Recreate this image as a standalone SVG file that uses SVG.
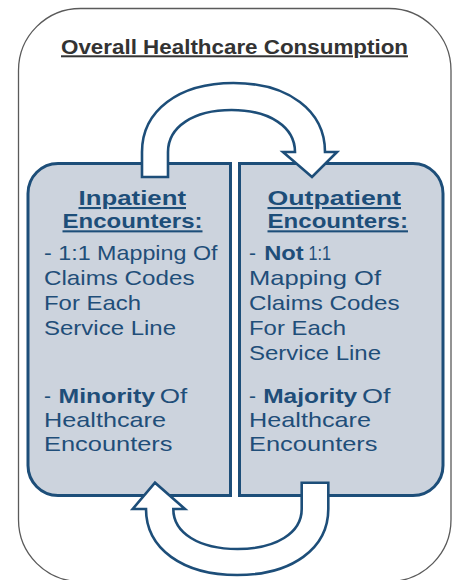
<svg xmlns="http://www.w3.org/2000/svg" width="452" height="580" viewBox="0 0 452 580">
<style>
.frame{fill:#ffffff;stroke:#5a5a5a;stroke-width:1.3}
.box{fill:#ccd3dd;stroke:#1d4e79;stroke-width:3}
.arrow{fill:#ffffff;stroke:#1d4e79;stroke-width:2.6;stroke-linejoin:miter}
text{font-family:"Liberation Sans",Arial,sans-serif}
.title{font-size:20px;font-weight:bold;fill:#333333;text-decoration:underline}
.head{font-size:20.8px;font-weight:bold;fill:#1d4e79;text-decoration:underline}
.body{font-size:21px;fill:#1f4e79}
.bold{font-weight:bold}
</style>
<rect class="frame" x="18.5" y="8.5" width="432.5" height="573" rx="62" ry="62"/>
<text id="title" class="title" x="61" y="54.3" textLength="347" lengthAdjust="spacingAndGlyphs">Overall Healthcare Consumption</text>
<g id="inpatient">
<path class="box" d="M230.5,163.5 L58,163.5 A30,30 0 0 0 28,193.5 L28,465.5 A30,30 0 0 0 58,495.5 L230.5,495.5 Z"/>
<text class="head" x="78.5" y="205" textLength="107.5" lengthAdjust="spacingAndGlyphs">Inpatient</text>
<text class="head" x="62.5" y="228.3" textLength="140" lengthAdjust="spacingAndGlyphs">Encounters:</text>
<text class="body" x="44" y="260" textLength="173.5" lengthAdjust="spacingAndGlyphs">- 1:1 Mapping Of</text>
<text class="body" x="44" y="285" textLength="150.5" lengthAdjust="spacingAndGlyphs">Claims Codes</text>
<text class="body" x="44" y="310" textLength="97" lengthAdjust="spacingAndGlyphs">For Each</text>
<text class="body" x="44" y="335" textLength="132" lengthAdjust="spacingAndGlyphs">Service Line</text>
<text class="body" y="402.7"><tspan x="44">-</tspan><tspan class="bold" x="58.5" textLength="96.5" lengthAdjust="spacingAndGlyphs">Minority</tspan><tspan x="159.8" textLength="27.5" lengthAdjust="spacingAndGlyphs">Of</tspan></text>
<text class="body" x="44" y="426.7" textLength="122" lengthAdjust="spacingAndGlyphs">Healthcare</text>
<text class="body" x="44" y="451" textLength="128.5" lengthAdjust="spacingAndGlyphs">Encounters</text>
</g>
<g id="outpatient">
<path class="box" d="M239.5,163.5 L413,163.5 A30,30 0 0 1 443,193.5 L443,465.5 A30,30 0 0 1 413,495.5 L239.5,495.5 Z"/>
<text class="head" x="267.5" y="205" textLength="133.5" lengthAdjust="spacingAndGlyphs">Outpatient</text>
<text class="head" x="267.5" y="228.3" textLength="140.5" lengthAdjust="spacingAndGlyphs">Encounters:</text>
<text class="body" y="260"><tspan x="249">-</tspan><tspan class="bold" x="264.2" textLength="39.5" lengthAdjust="spacingAndGlyphs">Not</tspan><tspan x="308.5" textLength="22.5" lengthAdjust="spacingAndGlyphs">1:1</tspan></text>
<text class="body" x="249" y="285" textLength="132" lengthAdjust="spacingAndGlyphs">Mapping Of</text>
<text class="body" x="249" y="310" textLength="150.5" lengthAdjust="spacingAndGlyphs">Claims Codes</text>
<text class="body" x="249" y="335" textLength="97" lengthAdjust="spacingAndGlyphs">For Each</text>
<text class="body" x="249" y="360" textLength="132" lengthAdjust="spacingAndGlyphs">Service Line</text>
<text class="body" y="402.7"><tspan x="249">-</tspan><tspan class="bold" x="263.2" textLength="94" lengthAdjust="spacingAndGlyphs">Majority</tspan><tspan x="362" textLength="28.5" lengthAdjust="spacingAndGlyphs">Of</tspan></text>
<text class="body" x="249" y="426.7" textLength="122" lengthAdjust="spacingAndGlyphs">Healthcare</text>
<text class="body" x="249" y="451" textLength="128.5" lengthAdjust="spacingAndGlyphs">Encounters</text>
</g>
<g id="connectors">
<path id="arrow-in-to-out" class="arrow" d="M142,177 L142,152 C142,110.6 178.6,83 233.5,83 C288.4,83 325,110.6 325,152 L337,152 L312,177 L283,152 L295,152 C295,126.8 269.6,110 231.5,110 C193.4,110 168,126.8 168,152 L168,177 Z"/>
<path id="arrow-out-to-in" class="arrow" d="M301.7,482.7 L328.3,482.7 L328.3,509 C328.3,548.6 292,575 237.2,575 C182.5,575 146,548.6 146,509 L132.7,509 L155,482.7 L185,509 L173.3,509 C173.3,533 199,549 237.5,549 C276,549 301.7,533 301.7,509 Z"/>
</g>
</svg>
